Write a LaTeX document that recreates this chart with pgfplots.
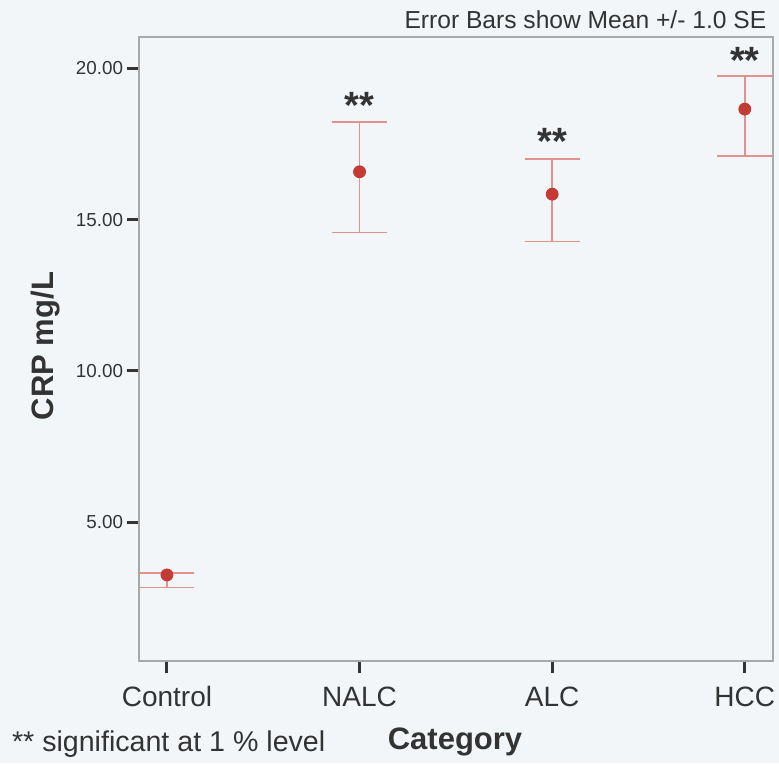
\documentclass[border=0pt]{standalone}
\usepackage{fontspec}
\setmainfont{Liberation Sans}
\usepackage{pgfplots}
\pgfplotsset{compat=1.18}

\definecolor{bg}{HTML}{F2F6F9}
\definecolor{dotred}{HTML}{C23B35}
\definecolor{barred}{HTML}{E2928C}
\definecolor{txt}{HTML}{333333}
\definecolor{framegray}{HTML}{A8A8A8}

% CRP means with +/- 1.0 SE per patient category
\pgfplotstableread{
x y ep em
0 3.26 0.07 0.42
1 16.58 1.65 2.01
2 15.84 1.17 1.57
3 18.65 1.09 1.55
}\crpdata

\begin{document}
\begin{tikzpicture}[x=1pt,y=1pt]
\fill[bg] (0,0) rectangle (389.5,381.5);
\useasboundingbox (0,0) rectangle (389.5,381.5);
\begin{axis}[
  at={(69.5pt,51.15pt)}, anchor=south west,
  scale only axis, width=316.85pt, height=311.8pt,
  xmin=-0.145, xmax=3.145, ymin=0.426, ymax=21.03,
  axis line style={framegray, line width=1pt},
  axis background/.style={fill=bg},
  xtick={0,1,2,3}, xticklabels={Control,NALC,ALC,HCC},
  ytick={5,10,15,20}, yticklabels={5.00,10.00,15.00,20.00},
  xtick pos=left, ytick pos=left,
  tick align=outside, major tick length=6pt,
  tick style={txt, line width=1.5pt},
  xticklabel style={font=\fontsize{14}{16}\selectfont, text=txt, anchor=base, inner sep=0pt, yshift=-17pt},
  yticklabel style={font=\fontsize{9.4}{11}\selectfont, text=txt, anchor=east, inner sep=0pt, xshift=-1.8pt},
  clip=false,
]
\addplot[only marks, mark=*, mark size=3pt, mark options={fill=dotred, draw=dotred},
  error bars/.cd, y dir=both, y explicit,
  error mark=|,
  error bar style={barred, line width=0.75pt},
  error mark options={barred, line width=0.75pt, mark size=13.75pt}]
  table[x=x, y=y, y error plus=ep, y error minus=em] {\crpdata};

\node[anchor=north, font=\bfseries\fontsize{19}{22}\selectfont, text=txt, inner sep=0pt, yshift=3.6pt] at (axis cs:1,18.98) {**};
\node[anchor=north, font=\bfseries\fontsize{19}{22}\selectfont, text=txt, inner sep=0pt, yshift=3.6pt] at (axis cs:2,17.79) {**};
\node[anchor=north, font=\bfseries\fontsize{19}{22}\selectfont, text=txt, inner sep=0pt, yshift=3.6pt] at (axis cs:3,20.47) {**};
\end{axis}

\node[anchor=base east, font=\fontsize{12.3}{14}\selectfont, text=txt, inner sep=0pt] at (383.3,367.35) {Error Bars show Mean +/- 1.0 SE};
\node[rotate=90, anchor=base, font=\bfseries\fontsize{15.5}{18}\selectfont, text=txt, inner sep=0pt] at (26.65,208.5) {CRP mg/L};
\node[anchor=base, font=\bfseries\fontsize{15.5}{18}\selectfont, text=txt, inner sep=0pt] at (227.5,6.5) {Category};
\node[anchor=base west, font=\fontsize{14.3}{16}\selectfont, text=txt, inner sep=0pt] at (5.85,5.65) {** significant at 1 \% level};
\end{tikzpicture}
\end{document}
